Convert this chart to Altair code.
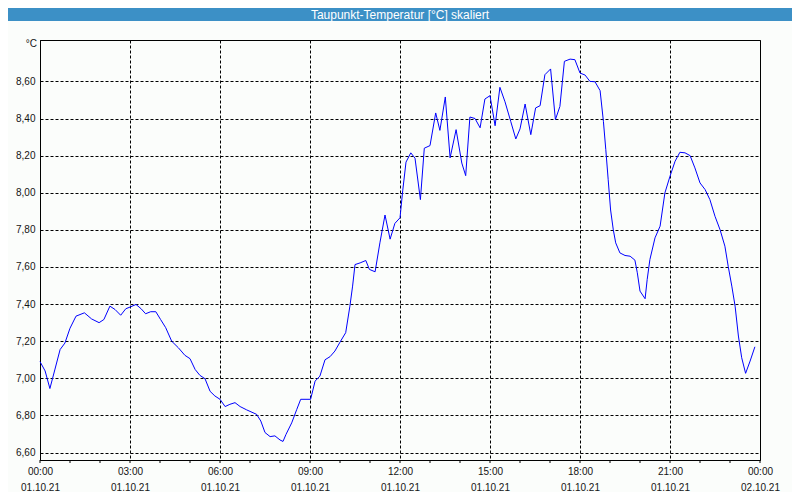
import altair as alt
import pandas as pd

# ---- data (hours since 01.10.21 00:00, dew point in °C) ----
hours = [0.0, 0.17, 0.33, 0.5, 0.67, 0.83, 1.0, 1.2, 1.48, 1.72,
         1.97, 2.13, 2.33, 2.5, 2.69, 2.86, 3.0, 3.2, 3.37, 3.52,
         3.69, 3.86, 4.02, 4.19, 4.39, 4.61, 4.83, 5.0, 5.17, 5.33,
         5.5, 5.67, 5.83, 6.0, 6.17, 6.33, 6.5, 6.67, 6.89, 7.22,
         7.36, 7.5, 7.67, 7.83, 8.0, 8.1, 8.2, 8.39, 8.56, 8.69,
         9.02, 9.17, 9.33, 9.5, 9.67, 9.83, 10.0, 10.19, 10.33, 10.42,
         10.5, 10.67, 10.86, 10.98, 11.17, 11.33, 11.5, 11.67, 11.83, 12.0,
         12.09, 12.2, 12.36, 12.5, 12.68, 12.81, 13.0, 13.19, 13.33, 13.51,
         13.67, 13.87, 14.06, 14.19, 14.33, 14.5, 14.67, 14.83, 15.0, 15.17,
         15.33, 15.5, 15.69, 15.86, 16.0, 16.17, 16.36, 16.52, 16.67, 16.83,
         17.02, 17.18, 17.33, 17.48, 17.67, 17.83, 18.0, 18.17, 18.33, 18.5,
         18.67, 18.78, 18.86, 18.94, 19.02, 19.11, 19.19, 19.33, 19.5, 19.67,
         19.83, 19.91, 20.0, 20.17, 20.24, 20.33, 20.5, 20.67, 20.83, 21.0,
         21.17, 21.33, 21.5, 21.67, 21.83, 22.0, 22.17, 22.33, 22.5, 22.67,
         22.83, 22.94, 23.06, 23.17, 23.28, 23.39, 23.52, 23.67, 23.83]

values = [7.09, 7.04, 6.945, 7.05, 7.155, 7.19, 7.27, 7.335, 7.353, 7.32,
          7.30, 7.317, 7.389, 7.371, 7.34, 7.375, 7.384, 7.398, 7.375, 7.348,
          7.359, 7.359, 7.317, 7.273, 7.20, 7.165, 7.124, 7.106, 7.048, 7.016,
          6.998, 6.93, 6.905, 6.887, 6.848, 6.86, 6.869, 6.848, 6.83, 6.806,
          6.77, 6.708, 6.686, 6.69, 6.668, 6.66, 6.698, 6.76, 6.833, 6.887,
          6.887, 6.985, 7.012, 7.10, 7.117, 7.147, 7.195, 7.246, 7.389, 7.497,
          7.613, 7.622, 7.635, 7.587, 7.574, 7.73, 7.88, 7.75, 7.835, 7.865,
          8.01, 8.165, 8.215, 8.186, 7.963, 8.24, 8.254, 8.43, 8.336, 8.516,
          8.188, 8.34, 8.16, 8.092, 8.408, 8.40, 8.35, 8.505, 8.523, 8.361,
          8.568, 8.49, 8.385, 8.29, 8.344, 8.478, 8.313, 8.457, 8.469, 8.636,
          8.667, 8.394, 8.465, 8.708, 8.72, 8.717, 8.645, 8.634, 8.60, 8.598,
          8.55, 8.385, 8.232, 8.07, 7.907, 7.80, 7.73, 7.676, 7.662, 7.658,
          7.637, 7.569, 7.47, 7.429, 7.533, 7.64, 7.757, 7.82, 7.999, 8.089,
          8.17, 8.218, 8.215, 8.20, 8.134, 8.053, 8.017, 7.963, 7.873, 7.80,
          7.712, 7.604, 7.497, 7.389, 7.228, 7.111, 7.027, 7.093, 7.17]

x_tick_hours = [0, 3, 6, 9, 12, 15, 18, 21, 24]
x_label_times = ["00:00", "03:00", "06:00", "09:00", "12:00", "15:00", "18:00", "21:00", "00:00"]
x_label_dates = ["01.10.21", "01.10.21", "01.10.21", "01.10.21", "01.10.21",
                 "01.10.21", "01.10.21", "01.10.21", "02.10.21"]
minor_tick_hours = list(range(0, 25))

y_tick_values = [6.6, 6.8, 7.0, 7.2, 7.4, 7.6, 7.8, 8.0, 8.2, 8.4, 8.6]
y_tick_labels = ["6,60", "6,80", "7,00", "7,20", "7,40", "7,60", "7,80", "8,00", "8,20", "8,40", "8,60"]

title_text = "Taupunkt-Temperatur [°C] skaliert"
unit_label = "°C"

# ---- build ----
df = pd.DataFrame({"h": hours, "v": values})
ticks_df = pd.DataFrame({"h": minor_tick_hours})

FONT = "Liberation Sans"
LABEL_COLOR = "#141414"

x_lab_arr = "[" + ",".join(
    "['%s','%s']" % (t, d) for t, d in zip(x_label_times, x_label_dates)) + "]"
x_label_expr = x_lab_arr + "[round(datum.value / 3)]"
y_lab_arr = "[" + ",".join("'%s'" % s for s in y_tick_labels) + "]"
y_label_expr = y_lab_arr + "[round((datum.value - 6.6) / 0.2)]"

x_scale = alt.Scale(domain=[0, 24], nice=False, zero=False)
y_scale = alt.Scale(domain=[6.56, 8.823], nice=False, zero=False)

x_axis = alt.Axis(values=x_tick_hours, labelExpr=x_label_expr, title=None,
                  grid=True, gridColor="black", gridDash=[3, 2], gridWidth=1, gridOpacity=1,
                  ticks=False, tickSize=0, labelPadding=6, labelLineHeight=16,
                  labelFont=FONT, labelFontSize=10, labelColor=LABEL_COLOR,
                  labelBaseline="top", labelAlign="center", labelFlush=False,
                  labelOverlap=False, domainColor="black", domainWidth=1)
y_axis = alt.Axis(values=y_tick_values, labelExpr=y_label_expr, title=None,
                  grid=True, gridColor="black", gridDash=[3, 2], gridWidth=1, gridOpacity=1,
                  ticks=False, tickSize=0, labelPadding=5,
                  labelFont=FONT, labelFontSize=10, labelColor=LABEL_COLOR,
                  labelFlush=False, labelOverlap=False,
                  domainColor="black", domainWidth=1)

x_enc = alt.X("h:Q", scale=x_scale, axis=x_axis)

line = alt.Chart(df).mark_line(color="#0000ff", strokeWidth=1).encode(
    x=x_enc,
    y=alt.Y("v:Q", scale=y_scale, axis=y_axis),
)

minor_ticks = alt.Chart(ticks_df).mark_rule(color="black", strokeWidth=1).encode(
    x=x_enc,
    y=alt.value(420),
    y2=alt.value(423),
)

unit = alt.Chart(pd.DataFrame({"t": [unit_label]})).mark_text(
    align="right", baseline="middle", font=FONT, fontSize=10, color=LABEL_COLOR
).encode(text="t:N", x=alt.value(-3), y=alt.value(4))

title_bar = alt.Chart(pd.DataFrame({"t": [title_text]})).mark_rect(
    color="#3c90c6"
).encode(x=alt.value(-32), x2=alt.value(752), y=alt.value(-32), y2=alt.value(-19))

title = alt.Chart(pd.DataFrame({"t": [title_text]})).mark_text(
    align="center", baseline="middle", font=FONT, fontSize=12, color="white"
).encode(text="t:N", x=alt.value(360), y=alt.value(-25.5))

chart = alt.layer(title_bar, title, unit, line, minor_ticks).properties(
    width=720, height=420,
    autosize=alt.AutoSizeParams(type="none"),
    padding={"left": 32, "top": 32, "right": 32, "bottom": 32},
    background="#fbfdfb",
).configure_view(stroke="black", strokeWidth=1)

chart.save("out.html", embed_options={"renderer": "svg", "actions": False})
